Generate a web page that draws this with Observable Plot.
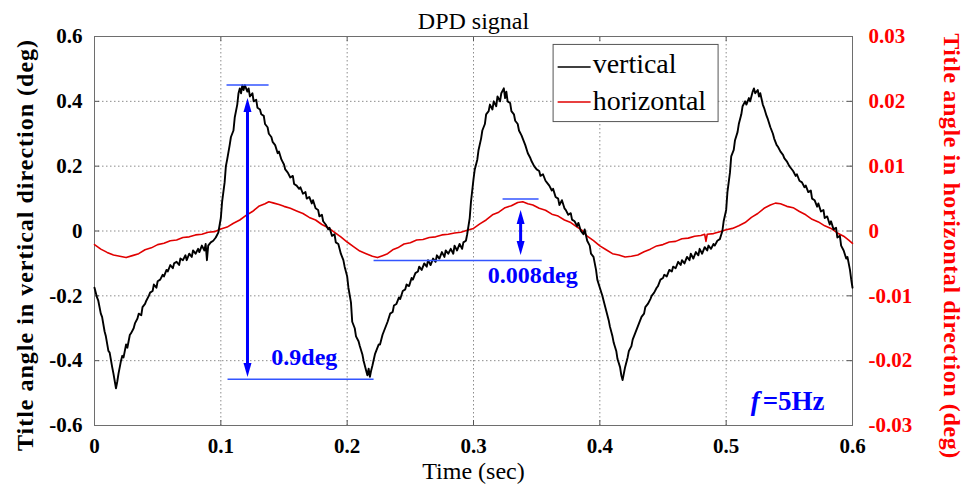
<!DOCTYPE html>
<html><head><meta charset="utf-8">
<script src="https://cdn.jsdelivr.net/npm/d3@7"></script>
<script src="https://cdn.jsdelivr.net/npm/@observablehq/plot@0.6"></script>
<style>body{margin:0;background:#fff}</style>
</head><body><div id="chart"></div>
<script>
// [time (s), tilt angle vertical (deg)]
const vertical = [
[0.000,-0.175],[0.002,-0.205],[0.003,-0.215],[0.005,-0.255],[0.006,-0.265],[0.008,-0.31],[0.009,-0.325],[0.011,-0.37],[0.012,-0.375],[0.014,-0.42],[0.015,-0.44],[0.017,-0.485],[0.018,-0.465],[0.019,-0.44],[0.021,-0.40],[0.022,-0.385],[0.023,-0.39],[0.025,-0.35],[0.026,-0.36],[0.028,-0.32],[0.029,-0.315],[0.031,-0.30],[0.032,-0.285],[0.034,-0.27],[0.035,-0.255],[0.037,-0.26],[0.038,-0.235],[0.040,-0.225],[0.041,-0.215],[0.043,-0.2],[0.044,-0.19],[0.046,-0.185],[0.047,-0.165],[0.049,-0.175],[0.050,-0.155],[0.052,-0.15],[0.054,-0.135],[0.055,-0.14],[0.057,-0.12],[0.058,-0.125],[0.060,-0.105],[0.062,-0.115],[0.063,-0.10],[0.065,-0.095],[0.067,-0.105],[0.068,-0.085],[0.070,-0.09],[0.072,-0.075],[0.073,-0.09],[0.075,-0.07],[0.077,-0.08],[0.078,-0.06],[0.080,-0.07],[0.082,-0.055],[0.083,-0.065],[0.085,-0.045],[0.087,-0.06],[0.088,-0.04],[0.089,-0.09],[0.090,-0.045],[0.092,-0.035],[0.094,-0.03],[0.096,-0.02],[0.098,-0.005],
[0.100,0.04],[0.101,0.09],[0.103,0.15],[0.104,0.2],[0.105,0.22],[0.107,0.265],[0.108,0.29],[0.110,0.31],[0.111,0.35],[0.113,0.39],[0.114,0.425],[0.115,0.44],[0.116,0.425],[0.117,0.45],[0.118,0.435],[0.119,0.45],[0.121,0.43],[0.122,0.44],[0.123,0.415],[0.125,0.425],[0.126,0.40],[0.128,0.405],[0.129,0.38],[0.131,0.375],[0.132,0.36],[0.134,0.355],[0.135,0.33],[0.137,0.32],[0.138,0.30],[0.140,0.29],[0.141,0.275],[0.143,0.265],[0.145,0.24],[0.146,0.245],[0.148,0.22],[0.150,0.205],[0.151,0.19],[0.153,0.18],[0.155,0.165],[0.157,0.17],[0.158,0.145],[0.160,0.14],[0.162,0.13],[0.163,0.135],[0.165,0.115],[0.167,0.12],[0.168,0.10],[0.170,0.105],[0.172,0.085],[0.173,0.095],[0.175,0.07],[0.177,0.065],[0.178,0.045],[0.180,0.05],[0.181,0.03],[0.183,0.02],[0.185,0.005],[0.186,0.01],[0.188,-0.015],[0.190,-0.01],[0.191,-0.035],[0.193,-0.04],[0.195,-0.07],[0.197,-0.09],[0.198,-0.11],
[0.200,-0.14],[0.201,-0.175],[0.203,-0.22],[0.204,-0.28],[0.206,-0.30],[0.207,-0.325],[0.209,-0.34],[0.210,-0.355],[0.212,-0.38],[0.213,-0.40],[0.215,-0.43],[0.216,-0.445],[0.217,-0.425],[0.218,-0.45],[0.219,-0.43],[0.220,-0.415],[0.222,-0.38],[0.223,-0.37],[0.225,-0.35],[0.226,-0.35],[0.228,-0.32],[0.229,-0.31],[0.231,-0.29],[0.232,-0.28],[0.234,-0.255],[0.236,-0.25],[0.237,-0.23],[0.239,-0.225],[0.241,-0.205],[0.242,-0.21],[0.244,-0.185],[0.246,-0.18],[0.247,-0.165],[0.249,-0.17],[0.251,-0.145],[0.252,-0.15],[0.254,-0.13],[0.256,-0.125],[0.257,-0.11],[0.259,-0.12],[0.261,-0.10],[0.263,-0.11],[0.264,-0.09],[0.266,-0.105],[0.268,-0.085],[0.270,-0.095],[0.271,-0.075],[0.273,-0.085],[0.275,-0.065],[0.277,-0.08],[0.278,-0.06],[0.280,-0.07],[0.282,-0.055],[0.284,-0.07],[0.285,-0.045],[0.287,-0.06],[0.289,-0.04],[0.291,-0.055],[0.292,-0.035],[0.294,-0.03],[0.295,-0.01],[0.297,0.04],[0.298,0.09],
[0.300,0.16],[0.301,0.19],[0.303,0.22],[0.304,0.25],[0.306,0.285],[0.307,0.31],[0.309,0.33],[0.310,0.36],[0.312,0.37],[0.313,0.39],[0.315,0.375],[0.316,0.40],[0.318,0.385],[0.319,0.415],[0.321,0.40],[0.322,0.425],[0.324,0.44],[0.325,0.41],[0.326,0.43],[0.327,0.40],[0.329,0.395],[0.330,0.37],[0.332,0.36],[0.333,0.34],[0.335,0.33],[0.336,0.31],[0.338,0.295],[0.340,0.275],[0.341,0.265],[0.343,0.24],[0.345,0.225],[0.346,0.215],[0.348,0.20],[0.350,0.19],[0.352,0.185],[0.353,0.17],[0.355,0.175],[0.357,0.155],[0.358,0.15],[0.360,0.14],[0.362,0.125],[0.363,0.13],[0.365,0.105],[0.367,0.10],[0.368,0.08],[0.370,0.095],[0.372,0.07],[0.373,0.065],[0.375,0.05],[0.377,0.055],[0.378,0.035],[0.380,0.03],[0.382,0.015],[0.383,0.025],[0.385,0.0],[0.387,-0.01],[0.388,0.005],[0.390,-0.03],[0.392,-0.045],[0.393,-0.07],[0.395,-0.08],[0.397,-0.12],[0.398,-0.15],
[0.400,-0.175],[0.402,-0.20],[0.403,-0.215],[0.405,-0.245],[0.407,-0.275],[0.408,-0.295],[0.410,-0.325],[0.411,-0.345],[0.413,-0.37],[0.414,-0.395],[0.416,-0.42],[0.417,-0.445],[0.418,-0.46],[0.419,-0.44],[0.420,-0.42],[0.422,-0.39],[0.423,-0.37],[0.425,-0.355],[0.426,-0.335],[0.428,-0.315],[0.430,-0.295],[0.431,-0.285],[0.433,-0.265],[0.435,-0.255],[0.436,-0.235],[0.438,-0.225],[0.440,-0.21],[0.441,-0.2],[0.443,-0.19],[0.445,-0.175],[0.446,-0.17],[0.448,-0.15],[0.450,-0.145],[0.451,-0.135],[0.453,-0.14],[0.455,-0.12],[0.457,-0.125],[0.458,-0.11],[0.460,-0.115],[0.462,-0.095],[0.464,-0.105],[0.465,-0.09],[0.467,-0.10],[0.469,-0.08],[0.471,-0.09],[0.472,-0.07],[0.474,-0.085],[0.476,-0.065],[0.478,-0.075],[0.479,-0.055],[0.481,-0.07],[0.483,-0.05],[0.485,-0.06],[0.486,-0.045],[0.488,-0.055],[0.490,-0.04],[0.491,-0.045],[0.493,-0.03],[0.495,-0.025],[0.497,0.0],[0.498,0.03],
[0.500,0.065],[0.501,0.12],[0.503,0.18],[0.504,0.23],[0.506,0.25],[0.507,0.28],[0.509,0.305],[0.510,0.33],[0.512,0.36],[0.513,0.385],[0.515,0.40],[0.516,0.39],[0.518,0.41],[0.519,0.40],[0.521,0.43],[0.522,0.44],[0.523,0.425],[0.525,0.435],[0.526,0.415],[0.527,0.425],[0.529,0.39],[0.530,0.38],[0.532,0.355],[0.533,0.345],[0.535,0.32],[0.537,0.30],[0.538,0.285],[0.540,0.265],[0.541,0.26],[0.543,0.245],[0.545,0.235],[0.546,0.225],[0.548,0.215],[0.550,0.2],[0.551,0.195],[0.553,0.185],[0.555,0.17],[0.556,0.175],[0.558,0.155],[0.560,0.15],[0.562,0.135],[0.563,0.14],[0.565,0.12],[0.567,0.125],[0.568,0.10],[0.570,0.095],[0.572,0.075],[0.573,0.085],[0.575,0.06],[0.577,0.065],[0.578,0.04],[0.580,0.045],[0.582,0.02],[0.583,0.03],[0.585,0.005],[0.587,0.01],[0.588,-0.02],[0.590,-0.015],[0.591,-0.045],[0.593,-0.06],[0.595,-0.085],[0.596,-0.08],[0.598,-0.12],[0.599,-0.15],[0.600,-0.175]
];
// [time (s), tilt angle horizontal (deg)]
const horizontal = [
[0.000,-0.0021],[0.005,-0.0028],[0.010,-0.0033],[0.015,-0.0037],[0.020,-0.0039],[0.025,-0.0041],[0.030,-0.0038],[0.035,-0.0035],[0.040,-0.0029],[0.045,-0.0026],[0.050,-0.0021],[0.055,-0.0019],[0.060,-0.0015],[0.065,-0.0014],[0.070,-0.0010],[0.075,-0.0009],[0.080,-0.0006],[0.085,-0.0005],[0.090,-0.0002],[0.095,-0.0001],
[0.100,0.0003],[0.105,0.0006],[0.110,0.0012],[0.115,0.0017],[0.120,0.0024],[0.125,0.0030],[0.130,0.0038],[0.135,0.0042],[0.138,0.0045],[0.142,0.0043],[0.146,0.0041],[0.150,0.0038],[0.155,0.0035],[0.160,0.0031],[0.165,0.0027],[0.170,0.0021],[0.175,0.0017],[0.180,0.0010],[0.185,0.0005],[0.190,-0.0002],[0.195,-0.0009],
[0.200,-0.0017],[0.205,-0.0024],[0.210,-0.0031],[0.215,-0.0035],[0.220,-0.0039],[0.224,-0.0041],[0.228,-0.0038],[0.232,-0.0035],[0.236,-0.0029],[0.240,-0.0026],[0.245,-0.0020],[0.250,-0.0018],[0.255,-0.0014],[0.260,-0.0013],[0.265,-0.0010],[0.270,-0.0009],[0.275,-0.0006],[0.280,-0.0005],[0.285,-0.0003],[0.290,-0.0002],[0.295,0.0001],
[0.300,0.0004],[0.305,0.0011],[0.310,0.0017],[0.315,0.0025],[0.320,0.0029],[0.325,0.0036],[0.330,0.0039],[0.335,0.0044],[0.339,0.0045],[0.343,0.0042],[0.347,0.0040],[0.352,0.0035],[0.357,0.0032],[0.362,0.0026],[0.367,0.0023],[0.372,0.0017],[0.377,0.0013],[0.382,0.0006],[0.386,0.0001],[0.390,-0.0008],[0.395,-0.0015],
[0.400,-0.0023],[0.405,-0.0029],[0.410,-0.0035],[0.415,-0.0037],[0.420,-0.0040],[0.425,-0.0039],[0.430,-0.0037],[0.435,-0.0032],[0.440,-0.0028],[0.445,-0.0023],[0.450,-0.0021],[0.455,-0.0017],[0.460,-0.0016],[0.465,-0.0012],[0.470,-0.0011],[0.475,-0.0008],[0.480,-0.0007],[0.483,-0.0005],[0.484,-0.0016],[0.485,-0.0005],[0.490,-0.0004],[0.495,-0.0001],
[0.500,0.0002],[0.505,0.0004],[0.510,0.0008],[0.515,0.0013],[0.520,0.0021],[0.525,0.0027],[0.530,0.0035],[0.535,0.0040],[0.539,0.0043],[0.543,0.0042],[0.548,0.0038],[0.553,0.0036],[0.558,0.0030],[0.563,0.0025],[0.568,0.0018],[0.573,0.0014],[0.578,0.0008],[0.583,0.0004],[0.588,-0.0003],[0.593,-0.0008],[0.597,-0.0014],[0.600,-0.0019]
];

const xTicks = [0, 0.1, 0.2, 0.3, 0.4, 0.5, 0.6];
const yTicksLeft = [-0.6, -0.4, -0.2, 0, 0.2, 0.4, 0.6];
const yTicksRight = [-0.03, -0.02, -0.01, 0, 0.01, 0.02, 0.03];
const K = 0.6 / 0.03; // left-axis units per right-axis unit

const seriesNames = ["vertical", "horizontal"];
const seriesColors = ["#000000", "#e00000"];
const titleText = "DPD signal";
const xLabel = "Time (sec)";
const yLabelLeft = "Title angle in vertical direction (deg)";
const yLabelRight = "Title angle in horizontal direction (deg)";

// legend box and entries (data coordinates)
const legendBox = [{x1: 0.3634, x2: 0.494, y1: 0.336, y2: 0.574}];
const legendRows = [
  {x1: 0.3666, x2: 0.3927, y: 0.506, ty: 0.4877, tx: 0.3943, name: seriesNames[0], color: seriesColors[0]},
  {x1: 0.3666, x2: 0.3927, y: 0.398, ty: 0.3735, tx: 0.3943, name: seriesNames[1], color: seriesColors[1]}
];

// annotations: vertical-axis units for the 0.9deg, horizontal units for the 0.008deg
const annLinesV = [{x1: 0.1045, x2: 0.1378, y: 0.4506}, {x1: 0.1053, x2: 0.2209, y: -0.457}];
const annLinesH = [{x1: 0.323, x2: 0.3515, y: 0.00494}, {x1: 0.2209, x2: 0.354, y: -0.00455}];
const arrowV = {x: 0.1211, top: 0.41, bottom: -0.45};
const arrowH = {x: 0.3373, top: 0.00324, bottom: -0.0037};
const annTexts = [
  {x: 0.140, y: -0.414, text: "0.9deg"},
  {x: 0.3112, y: -0.1605, text: "0.008deg"}
];
const freqText = [{x: 0.5289, y: -0.552, text: "=5Hz"}];
const fText = [{x: 0.5195, y: -0.552, text: "f"}];

const blue = "#0000ff";
const blueThin = "#3355ff";

const vData = vertical.map(([t, v]) => ({t, v}));
const hData = horizontal.map(([t, h]) => ({t, v: h * K}));
const linesAll = [...annLinesV, ...annLinesH.map(d => ({x1: d.x1, x2: d.x2, y: d.y * K}))];
const arrows = [arrowV, {x: arrowH.x, top: arrowH.top * K, bottom: arrowH.bottom * K}];
const heads = arrows.flatMap(a => [{x: a.x, y: a.top, r: 0}, {x: a.x, y: a.bottom, r: 180}]);

const headSymbol = {draw(ctx) { ctx.moveTo(0, 0); ctx.lineTo(4, 14); ctx.lineTo(-4, 14); ctx.closePath(); }};

const W = 963, H = 485, mL = 94, mR = 111, mT = 36, mB = 60;
const pxY = (1.2) / (H - mT - mB); // y units per pixel
const pxX = 0.6 / (W - mL - mR);
const tickLen = 5;

const fmtLeft = d => { const v = Math.round(d * 10) / 10; return v === 0 ? "0" : String(v); };
const fmtRight = d => { const v = Math.round(d / K * 100) / 100; return v === 0 ? "0" : String(v); };
const fmtX = d => { const v = Math.round(d * 10) / 10; return v === 0 ? "0" : String(v); };

const svg = Plot.plot({
  width: W, height: H,
  marginLeft: mL, marginRight: mR, marginTop: mT, marginBottom: mB,
  x: {domain: [0, 0.6]},
  y: {domain: [-0.6, 0.6]},
  style: {fontFamily: "'Liberation Serif', 'Times New Roman', serif", background: "#fff", color: "#000", overflow: "visible"},
  marks: [
    Plot.gridX(xTicks.slice(1, -1), {stroke: "#8c8c8c", strokeOpacity: 1, strokeDasharray: "1.5,2.5"}),
    Plot.gridY(yTicksLeft.slice(1, -1), {stroke: "#8c8c8c", strokeOpacity: 1, strokeDasharray: "1.5,2.5"}),
    // inward ticks on all sides
    Plot.ruleX(xTicks, {y1: -0.6, y2: -0.6 + tickLen * pxY, stroke: "#555"}),
    Plot.ruleX(xTicks, {y1: 0.6, y2: 0.6 - tickLen * pxY, stroke: "#555"}),
    Plot.ruleY(yTicksLeft, {x1: 0, x2: tickLen * pxX, stroke: "#555"}),
    Plot.ruleY(yTicksLeft, {x1: 0.6, x2: 0.6 - tickLen * pxX, stroke: "#555"}),
    Plot.frame({stroke: "#6e6e6e"}),
    Plot.axisX({ticks: xTicks, tickSize: 0, tickPadding: 13, fontSize: 21, fontWeight: "bold", tickFormat: fmtX, label: null}),
    Plot.axisY({ticks: yTicksLeft, tickSize: 0, tickPadding: 12, fontSize: 21, fontWeight: "bold", tickFormat: fmtLeft, label: null}),
    Plot.axisY({anchor: "right", ticks: yTicksRight.map(d => d * K), tickSize: 0, tickPadding: 16, fontSize: 21, fontWeight: "bold", tickFormat: fmtRight, label: null, fill: "#ff0000"}),
    // series
    Plot.line(hData, {x: "t", y: "v", stroke: seriesColors[1], strokeWidth: 1.6}),
    Plot.line(vData, {x: "t", y: "v", stroke: seriesColors[0], strokeWidth: 1.9}),
    // annotations
    Plot.link(linesAll, {x1: "x1", x2: "x2", y1: "y", y2: "y", stroke: blueThin, strokeWidth: 1.5}),
    Plot.link(arrows, {x1: "x", x2: "x", y1: d => d.top - 8 * pxY, y2: d => d.bottom + 8 * pxY, stroke: blue, strokeWidth: 3}),
    Plot.dot(heads, {x: "x", y: "y", symbol: headSymbol, rotate: "r", fill: blue, stroke: null, r: 5}),
    Plot.text(annTexts, {x: "x", y: "y", text: "text", fill: blue, fontSize: 24, fontWeight: "bold", textAnchor: "start", lineAnchor: "bottom"}),
    Plot.text(freqText, {x: "x", y: "y", text: "text", fill: blue, fontSize: 27, fontWeight: "bold", textAnchor: "start", lineAnchor: "bottom"}),
    Plot.text(fText, {x: "x", y: "y", text: "text", fill: blue, fontSize: 27, fontWeight: "bold", fontStyle: "italic", textAnchor: "start", lineAnchor: "bottom"}),
    // legend
    Plot.rect(legendBox, {x1: "x1", x2: "x2", y1: "y1", y2: "y2", fill: "#fff", stroke: "#555", strokeWidth: 1}),
    Plot.link(legendRows, {x1: "x1", x2: "x2", y1: "y", y2: "y", stroke: "color", strokeWidth: 1.5}),
    Plot.text(legendRows, {x: "tx", y: "ty", text: "name", fontSize: 28, textAnchor: "start", lineAnchor: "bottom", fill: "#000"}),
    // titles
    Plot.text([titleText], {frameAnchor: "top", dy: -8, lineAnchor: "bottom", textAnchor: "middle", fontSize: 24, fill: "#000"}),
    Plot.text([xLabel], {frameAnchor: "bottom", dy: 53, lineAnchor: "bottom", textAnchor: "middle", fontSize: 24, fill: "#000"}),
    Plot.text([yLabelLeft], {frameAnchor: "left", dx: -69, dy: 14, rotate: -90, textAnchor: "middle", lineAnchor: "middle", fontSize: 24, fontWeight: "bold", fill: "#000"}),
    Plot.text([yLabelRight], {frameAnchor: "right", dx: 99, dy: 15, rotate: 90, textAnchor: "middle", lineAnchor: "middle", fontSize: 24, fontWeight: "bold", fill: "#ff0000"})
  ]
});
svg.querySelectorAll("text").forEach(t => {
  const s = t.textContent;
  if (s === yLabelLeft) t.style.letterSpacing = "1px";
  if (s === yLabelRight) t.style.letterSpacing = "0.6px";
});
document.getElementById("chart").appendChild(svg);
</script>
</body></html>
